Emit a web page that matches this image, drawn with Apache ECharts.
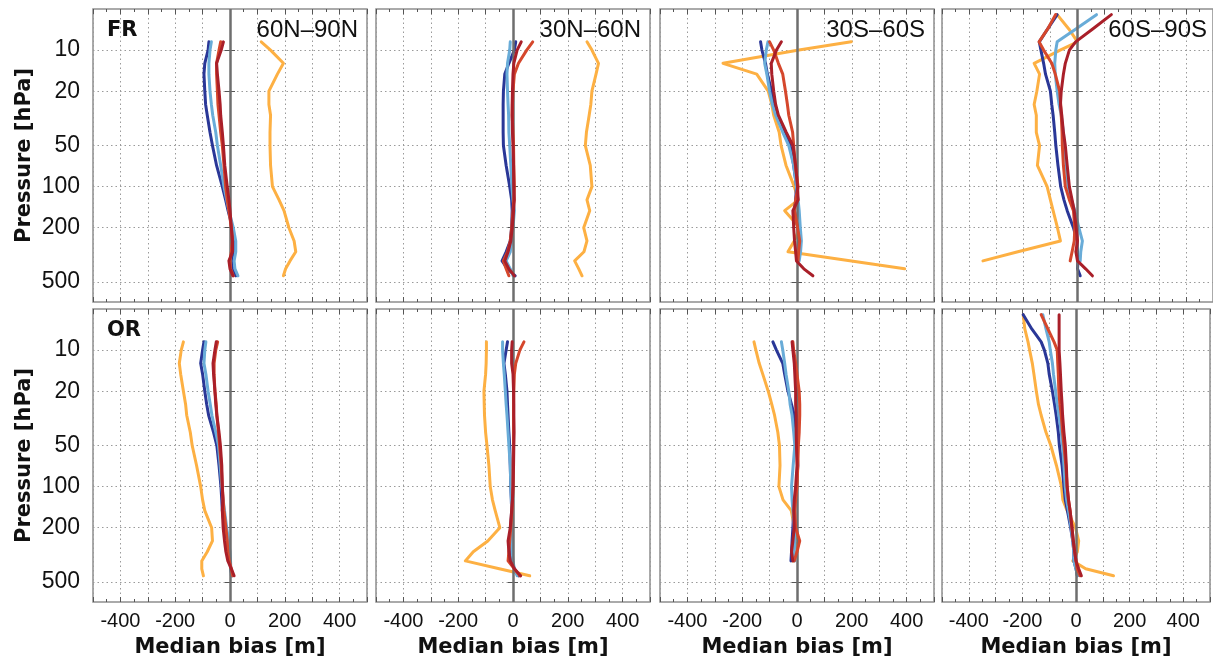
<!DOCTYPE html>
<html><head><meta charset="utf-8">
<script src="https://cdn.jsdelivr.net/npm/echarts@6/dist/echarts.min.js"></script>
<style>html,body{margin:0;padding:0;background:#fff}#c{width:1213px;height:661px}</style>
</head><body><div id="c"></div>
<script>
// ---------------- data ----------------
const pressureLevels = [5.5, 7, 8.7, 10, 12.5, 15, 20, 25, 30, 40, 50, 70, 100, 125, 150, 200, 250, 300, 350, 400, 450];
const yTickValues = [10, 20, 50, 100, 200, 500];
const xLabelValues = [-400, -200, 0, 200, 400];
const regionLabels = ['60N\u201390N', '30N\u201360N', '30S\u201360S', '60S\u201390S'];
const rowLabels = ['FR', 'OR'];
// each panel: rows = orange, dark blue, light blue, red, dark red (values aligned with pressureLevels)
const FR_60N_90N = [
  [null,null,114,148,195,173,142,142,148,146,146,148,155,179,197,215,234,240,219,203,195],
  [null,null,-77,-80,-92,-95,-92,-89,-83,-73,-64,-49,-28,-16,-7,9,15,12,5,9,21],
  [null,null,-68,-73,-77,-77,-73,-68,-63,-52,-46,-34,-22,-12,-4,12,21,21,15,18,29],
  [null,null,-34,-40,-49,-49,-46,-44,-40,-34,-28,-22,-16,-10,-4,5,9,5,0,2,12],
  [null,null,-24,-32,-49,-46,-40,-36,-34,-28,-24,-19,-10,-4,0,5,9,9,-4,0,11]
];
const FR_30N_60N = [
  [null,null,270,288,312,303,288,284,278,268,264,282,288,270,280,258,270,259,225,240,252],
  [null,null,10,5,-15,-30,-35,-36,-36,-36,-35,-25,-12,-5,-3,-5,-10,-25,-40,-20,8],
  [null,null,-10,-12,-20,-22,-20,-18,-16,-15,-12,-8,-4,0,5,0,-5,-10,-25,-10,0],
  [null,null,72,50,20,5,0,-2,-3,0,2,3,5,3,0,-5,-10,-20,-35,-25,-15],
  [null,null,30,15,3,0,-2,-3,-3,-2,0,2,3,5,2,-3,-8,-18,-30,-15,5]
];
const FR_30S_60S = [
  [null,null,198,7,-270,-147,-105,-92,-85,-65,-58,-40,-10,5,-45,10,-10,-33,null,393,null],
  [null,null,-133,-128,-115,-108,-93,-85,-75,-42,-25,-12,-2,-5,-9,3,10,6,3,null,null],
  [null,null,-106,-112,-118,-110,-100,-90,-78,-52,-30,-12,-2,4,8,12,16,13,8,null,null],
  [null,null,-100,-85,-68,-52,-42,-35,-30,-16,-12,-6,4,-5,-9,2,10,6,4,null,null],
  [null,null,-57,-75,-94,-92,-85,-78,-68,-39,-15,-5,2,4,-15,-12,-9,-5,-2,25,58]
];
const FR_60S_90S = [
  [-75,-32,0,-64,-160,-140,-150,-160,-152,-152,-140,-148,-112,-100,-90,-74,-63,-220,-349,null,null],
  [-75,-110,-141,-135,-125,-118,-100,-95,-90,-84,-80,-72,-62,-50,-38,-15,-2,0,2,0,10],
  [70,-6,-75,-80,-84,-82,-75,-68,-60,-52,-48,-42,-35,-22,-10,5,18,12,10,null,null],
  [-81,-110,-142,-125,-95,-82,-66,-62,-60,-57,-56,-52,-45,-30,-15,-10,-12,-20,-27,null,null],
  [125,56,-7,-30,-45,-52,-60,-63,-58,-52,-45,-38,-30,-20,-12,-5,0,-6,0,30,55]
];
const OR_60N_90N = [
  [null,null,-170,-178,-185,-180,-170,-162,-158,-145,-138,-122,-107,-100,-92,-67,-64,-83,-103,-103,-97],
  [null,null,-95,-100,-107,-100,-92,-85,-78,-60,-48,-40,-33,-30,-28,-20,-10,-5,0,2,8],
  [null,null,-88,-92,-95,-88,-80,-72,-66,-52,-42,-36,-30,-25,-20,-12,-5,0,2,3,5],
  [null,null,-45,-52,-58,-58,-55,-50,-48,-42,-38,-32,-28,-25,-22,-15,-10,-8,-3,5,10],
  [null,null,-50,-55,-62,-60,-55,-52,-48,-40,-35,-30,-28,-26,-28,-25,-20,-15,-8,5,15]
];
const OR_30N_60N = [
  [null,null,-97,-97,-98,-100,-106,-105,-104,-100,-95,-88,-83,-75,-65,-48,-92,-145,-174,-50,61],
  [null,null,-20,-25,-33,-28,-22,-20,-18,-15,-12,-10,-8,-6,-5,-8,-12,-10,-5,5,20],
  [null,null,-38,-38,-35,-32,-28,-25,-22,-18,-15,-10,-8,-6,-5,-3,-5,-3,0,5,15],
  [null,null,40,25,10,5,3,2,2,2,2,0,0,-2,-4,-8,-12,-15,-18,5,25],
  [null,null,-3,-5,-5,0,2,3,3,4,3,2,0,-2,-5,-10,-18,-15,-10,5,28]
];
const OR_30S_60S = [
  [null,null,-157,-150,-138,-125,-105,-92,-82,-70,-64,-62,-66,-51,-21,-9,4,-9,-15,null,null],
  [null,null,-88,-75,-52,-45,-33,-20,-10,-3,0,3,-2,-8,-12,-15,-18,-20,-22,null,null],
  [null,null,-57,-52,-45,-40,-30,-25,-18,-12,-8,-14,-20,-18,-15,-10,-8,-10,-8,null,null],
  [null,null,-15,-12,-5,0,8,10,10,8,5,3,0,-5,-8,-5,10,0,-10,null,null],
  [null,null,-18,-15,-10,-8,-5,-5,-3,-3,-2,0,-5,-10,-12,-10,-15,-20,-15,null,null]
];
const OR_60S_90S = [
  [-197,-191,-179,-173,-163,-157,-148,-140,-130,-112,-94,-73,-54,-49,-33,-2,10,5,-12,36,140],
  [-197,-165,-130,-118,-105,-100,-88,-80,-74,-66,-62,-52,-45,-40,-32,-20,-12,-8,-8,0,5],
  [-124,-112,-100,-96,-88,-84,-76,-70,-64,-55,-50,-45,-40,-35,-28,-18,-12,-8,-8,0,5],
  [-130,-105,-82,-70,-68,-66,-64,-60,-55,-50,-45,-38,-33,-28,-22,-15,-10,-5,0,5,15],
  [-63,-63,-63,-63,-60,-58,-55,-52,-50,-45,-40,-36,-33,-28,-22,-15,-10,-5,0,10,20]
];
const panels = [
  [FR_60N_90N, FR_30N_60N, FR_30S_60S, FR_60S_90S],
  [OR_60N_90N, OR_30N_60N, OR_30S_60S, OR_60S_90S]
];

// ---------------- style / layout ----------------
const lineColors = ['#FDB043', '#2A3797', '#69ACD8', '#D5472C', '#A91F29'];
const colLeft = [93, 376, 660, 942];
const rowTop = [9, 309];
const PW = 274, PH = 293;
const CANVAS_W = 1213;
const gridLineStyle = { color: '#9a9a9a', width: 1, type: [1.5, 3] };
const tickStyle = { color: '#555', width: 1 };

const grids = [], xAxes = [], yAxes = [], series = [], graphics = [];
let gi = 0;
for (let r = 0; r < 2; r++) {
  for (let c = 0; c < 4; c++) {
    grids.push({ left: colLeft[c], top: rowTop[r], width: PW, height: PH, show: true,
      borderColor: '#8f8f8f', borderWidth: 1.5, backgroundColor: 'transparent', z: 0 });
    const bottomRow = r === 1, firstCol = c === 0;
    const xa = 2 * gi, ya = 2 * gi;
    // bottom x axis
    xAxes.push({ type: 'value', gridIndex: gi, position: 'bottom', min: -500, max: 500, interval: 100,
      axisLine: { show: false },
      axisTick: { show: true, inside: true, length: 5, lineStyle: tickStyle },
      minorTick: { show: true, splitNumber: 2, length: 3, lineStyle: tickStyle },
      splitLine: { show: true, lineStyle: gridLineStyle },
      axisLabel: { show: bottomRow, margin: 9, fontSize: 20, color: '#111', fontFamily: 'Liberation Sans',
        formatter: v => (xLabelValues.indexOf(v) >= 0 ? String(v) : '') },
      name: bottomRow ? 'Median bias [m]' : '', nameLocation: 'middle', nameGap: 35,
      nameTextStyle: { fontSize: 21, fontWeight: 'bold', color: '#111', fontFamily: 'DejaVu Sans' } });
    // top x axis (ticks only)
    xAxes.push({ type: 'value', gridIndex: gi, position: 'top', min: -500, max: 500, interval: 100,
      axisLine: { show: false },
      axisTick: { show: true, inside: true, length: 5, lineStyle: tickStyle },
      minorTick: { show: true, splitNumber: 2, length: 3, lineStyle: tickStyle },
      splitLine: { show: false }, axisLabel: { show: false } });
    // left y axis (log pressure)
    yAxes.push({ type: 'log', logBase: 10, gridIndex: gi, position: 'left', min: 5, max: 700, inverse: true,
      axisLine: { show: false },
      axisTick: { show: true, inside: true, length: 5, lineStyle: tickStyle, customValues: yTickValues },
      splitLine: { show: true, lineStyle: gridLineStyle },
      axisLabel: { show: firstCol, customValues: yTickValues, margin: 13, fontSize: 23, color: '#111',
        fontFamily: 'Liberation Sans' },
      name: firstCol ? 'Pressure [hPa]' : '', nameLocation: 'middle', nameGap: 58, nameRotate: 90,
      nameTextStyle: { fontSize: 21, fontWeight: 'bold', color: '#111', fontFamily: 'DejaVu Sans' } });
    // right y axis (ticks only)
    yAxes.push({ type: 'log', logBase: 10, gridIndex: gi, position: 'right', min: 5, max: 700, inverse: true,
      axisLine: { show: false },
      axisTick: { show: true, inside: true, length: 5, lineStyle: tickStyle, customValues: yTickValues },
      splitLine: { show: false }, axisLabel: { show: false } });

    // zero line
    series.push({ type: 'line', xAxisIndex: xa, yAxisIndex: ya, data: [], silent: true, z: 1,
      markLine: { silent: true, symbol: ['none', 'none'], label: { show: false },
        lineStyle: { color: '#6e6e6e', width: 2.5, type: 'solid' }, data: [{ xAxis: 0 }] } });

    const vals = panels[r][c];
    vals.forEach((row, k) => {
      const pts = [];
      row.forEach((v, i) => { if (v !== null) pts.push([v, pressureLevels[i]]); });
      series.push({ type: 'line', xAxisIndex: xa, yAxisIndex: ya, data: pts, showSymbol: false, symbol: 'none',
        silent: true, z: 2 + k, lineStyle: { color: lineColors[k], width: 3, join: 'round', cap: 'round' } });
    });

    if (c === 0) {
      graphics.push({ type: 'text', left: colLeft[c] + 14, top: rowTop[r] + 11, z: 50,
        style: { text: rowLabels[r], fontSize: 21, fontWeight: 'bold', fontFamily: 'DejaVu Sans', fill: '#111' } });
    }
    if (r === 0) {
      graphics.push({ type: 'text', right: CANVAS_W - (colLeft[c] + PW - 9), top: rowTop[r] + 9, z: 50,
        style: { text: regionLabels[c], fontSize: 24, fontFamily: 'Liberation Sans', fill: '#111' } });
    }
    gi++;
  }
}

const chart = echarts.init(document.getElementById('c'), null, { renderer: 'canvas' });
chart.setOption({
  animation: false,
  backgroundColor: '#ffffff',
  grid: grids, xAxis: xAxes, yAxis: yAxes, series: series, graphic: graphics
});
</script></body></html>
